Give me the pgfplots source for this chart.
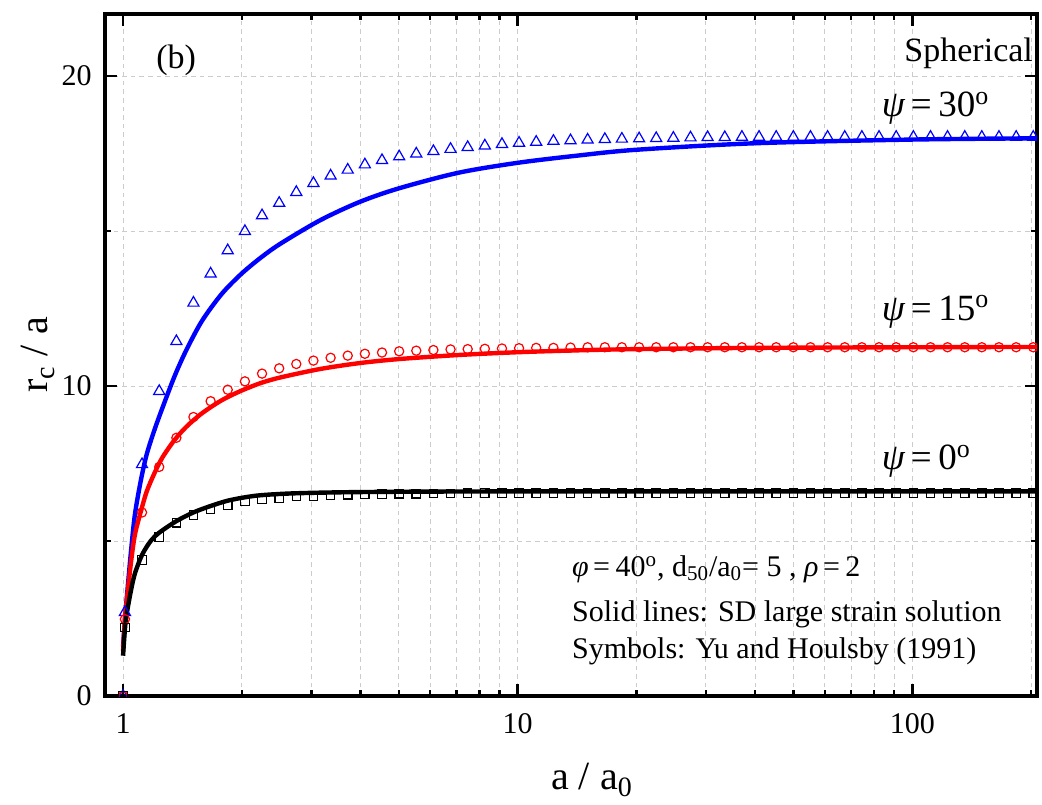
\documentclass[border=0pt]{standalone}
\usepackage{fontspec}
\setmainfont{Liberation Serif}
\usepackage{pgfplots}
\pgfplotsset{compat=1.18}
\usepackage{pgfplotstable}

\pgfplotstableread{
x tri circ sq
1 0 0 0
1.011 2.70 2.48 2.21
1.117 7.47 5.92 4.39
1.235 9.83 7.39 5.13
1.365 11.44 8.33 5.59
1.508 12.68 9.00 5.84
1.667 13.62 9.51 6.02
1.842 14.37 9.88 6.16
2.036 14.99 10.15 6.27
2.250 15.50 10.40 6.34
2.487 15.90 10.57 6.39
2.748 16.25 10.71 6.43
3.037 16.54 10.82 6.45
3.357 16.78 10.91 6.47
3.710 16.97 10.98 6.49
4.100 17.14 11.04 6.50
4.531 17.28 11.08 6.51
5.008 17.40 11.12 6.52
5.534 17.49 11.14 6.52
6.116 17.57 11.16 6.53
6.759 17.64 11.18 6.53
7.470 17.70 11.19 6.54
8.256 17.75 11.20 6.55
9.124 17.80 11.21 6.55
10.08 17.84 11.22 6.55
11.14 17.87 11.23 6.55
12.32 17.90 11.23 6.55
13.61 17.92 11.24 6.55
15.04 17.94 11.25 6.55
16.63 17.96 11.25 6.55
18.37 17.97 11.25 6.55
20.31 17.98 11.25 6.55
22.44 17.99 11.25 6.55
24.80 18.00 11.25 6.55
27.41 18.01 11.25 6.55
30.29 18.02 11.25 6.55
33.48 18.02 11.25 6.55
37.00 18.03 11.25 6.55
40.89 18.03 11.25 6.55
45.19 18.03 11.25 6.55
49.95 18.03 11.25 6.55
55.20 18.03 11.25 6.55
61.00 18.03 11.25 6.55
67.42 18.03 11.25 6.55
74.51 18.03 11.25 6.55
82.35 18.03 11.25 6.55
91.01 18.03 11.25 6.55
100.6 18.03 11.25 6.55
111.2 18.03 11.25 6.55
122.8 18.03 11.25 6.55
135.8 18.03 11.25 6.55
150.0 18.03 11.25 6.55
165.8 18.03 11.25 6.55
183.3 18.03 11.25 6.55
202.5 18.03 11.25 6.55
}\markdata

\pgfplotstableread{
x y
1.0000 1.60
1.0116 2.50
1.0233 3.25
1.0471 4.65
1.0715 5.85
1.1092 6.95
1.1482 7.80
1.2023 8.60
1.2589 9.30
1.3490 10.30
1.4454 11.15
1.5849 12.10
1.7783 12.97
1.9953 13.62
2.2387 14.15
2.5119 14.60
3.1623 15.35
3.9811 15.94
5.0119 16.38
7.0795 16.88
10.000 17.20
14.125 17.43
19.953 17.62
39.81 17.83
100.0 17.95
207.0 17.99
}\blueline

\pgfplotstableread{
x y
1.0000 1.45
1.0116 2.55
1.0233 3.15
1.0471 4.30
1.0715 5.20
1.1092 5.95
1.1482 6.60
1.2023 7.20
1.2589 7.70
1.3490 8.25
1.4454 8.68
1.5849 9.12
1.7783 9.54
1.9953 9.85
2.2387 10.10
2.5119 10.28
3.1623 10.55
3.9811 10.74
5.0119 10.87
7.0795 11.00
10.000 11.09
14.125 11.15
19.953 11.19
39.81 11.23
100.0 11.25
207.0 11.26
}\redline

\pgfplotstableread{
x y
1.0000 1.30
1.0116 2.20
1.0233 2.70
1.0471 3.40
1.0715 3.95
1.1169 4.55
1.1749 5.00
1.2353 5.27
1.3646 5.64
1.5066 5.92
1.6672 6.13
1.8408 6.30
2.0370 6.41
2.2491 6.48
2.7479 6.54
4.1020 6.58
10.000 6.60
207.0 6.60
}\blackline

\begin{document}
\begin{tikzpicture}
\begin{axis}[
  scale only axis, width=466pt, height=341pt,
  xmode=log, xmin=0.9, xmax=207, ymin=0, ymax=22,
  xtick={1,10,100}, xticklabels={1,10,100},
  minor xtick={2,3,4,5,6,7,8,9,20,30,40,50,60,70,80,90,200},
  ytick={0,10,20}, yticklabels={0,10,20},
  minor ytick={5,15},
  grid=both,
  major grid style={gray!40, dash pattern=on 2.3pt off 2pt, line width=0.5pt},
  minor grid style={gray!40, dash pattern=on 2.3pt off 2pt, line width=0.5pt},
  tick align=inside,
  major tick length=6pt, minor tick length=3pt,
  every tick/.append style={black, line width=1.2pt},
  axis line style={line width=1.6pt},
  tick label style={font=\fontsize{15}{18}\selectfont},
  xticklabel style={anchor=north, inner sep=0pt, yshift=-8.5pt},
  yticklabel style={anchor=east, inner sep=0pt, xshift=-6.5pt},
  xlabel={a / a\textsubscript{0}},
  ylabel={r\textsubscript{c} / a},
  xlabel style={at={(axis description cs:0.5225,-0.1378)}, anchor=base, font=\fontsize{20}{24}\selectfont},
  ylabel style={at={(axis description cs:-0.072,0.5)}, anchor=center, font=\fontsize{20}{24}\selectfont},
  clip marker paths=true,
]
\addplot[blue, line width=2.2pt, smooth, tension=0.5, no markers] table[x=x,y=y] {\blueline};
\addplot[red, line width=2.2pt, smooth, tension=0.5, no markers] table[x=x,y=y] {\redline};
\addplot[black, line width=2.2pt, smooth, tension=0.5, no markers] table[x=x,y=y] {\blackline};

\addplot[only marks, blue, mark=triangle, mark size=3.2pt, mark options={line width=0.6pt}] table[x=x,y=tri] {\markdata};
\addplot[only marks, red, mark=o, mark size=2.3pt, mark options={line width=0.6pt}] table[x=x,y=circ] {\markdata};
\addplot[only marks, black, mark=square, mark size=2.1pt, mark options={line width=0.6pt}] table[x=x,y=sq] {\markdata};

\node[anchor=base west, font=\fontsize{17}{20}\selectfont, inner sep=0pt] at (rel axis cs:0.0547,0.920) {(b)};
\node[anchor=base east, font=\fontsize{17}{20}\selectfont, inner sep=0pt] at (rel axis cs:0.996,0.930) {Spherical};
\node[anchor=base west, font=\fontsize{18.5}{22}\selectfont, inner sep=0pt] at (rel axis cs:0.833,0.8494) {\textit{ψ}\hspace{0.15em}=\hspace{0.18em}30\textsuperscript{o}};
\node[anchor=base west, font=\fontsize{18.5}{22}\selectfont, inner sep=0pt] at (rel axis cs:0.833,0.5513) {\textit{ψ}\hspace{0.15em}=\hspace{0.18em}15\textsuperscript{o}};
\node[anchor=base west, font=\fontsize{18.5}{22}\selectfont, inner sep=0pt] at (rel axis cs:0.833,0.3314) {\textit{ψ}\hspace{0.15em}=\hspace{0.18em}0\textsuperscript{o}};
\node[anchor=base west, font=\fontsize{15}{18}\selectfont, inner sep=0pt] at (rel axis cs:0.5008,0.175) {\textit{φ}\hspace{0.15em}=\hspace{0.18em}40\textsuperscript{o}, d\textsubscript{50}/a\textsubscript{0}= 5 , \textit{ρ}\hspace{0.15em}=\hspace{0.18em}2};
\node[anchor=base west, font=\fontsize{15}{18}\selectfont, inner sep=0pt] at (rel axis cs:0.5008,0.109) {Solid lines: SD large strain solution};
\node[anchor=base west, font=\fontsize{15}{18}\selectfont, inner sep=0pt] at (rel axis cs:0.5008,0.0553) {Symbols: Yu and Houlsby (1991)};
\end{axis}
\pgfresetboundingbox
\path[use as bounding box] ([shift={(-52.5pt,-54pt)}]current axis.south west) rectangle ([shift={(2.5pt,7pt)}]current axis.north east);
\end{tikzpicture}
\end{document}
